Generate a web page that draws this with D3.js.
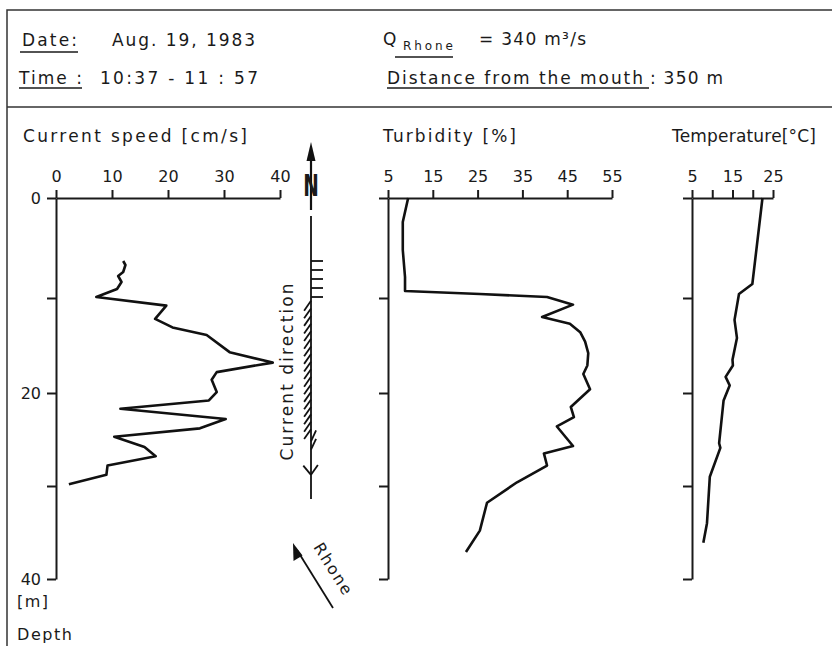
<!DOCTYPE html>
<html>
<head>
<meta charset="utf-8">
<script src="https://cdn.jsdelivr.net/npm/d3@7"></script>
<style>
    body { margin: 0; background: #fff; }
    svg { display: block; }
    text { font-family: "DejaVu Sans", sans-serif; fill: #1a1a1a; }
    .tick line, .domain { stroke: #1a1a1a; stroke-width: 2; }
</style>
</head>
<body>
<svg id="chart" width="832" height="646"></svg>
<script>
// - - - - - - - - - -
// data
// - - - - - - - - - -
const depthTicks = [0, 10, 20, 30, 40];
const depthLabels = [0, 20, 40];

const speedTicks = [0, 10, 20, 30, 40];
const speedDepth = [6.3, 6.7, 7.4, 7.8, 8.4, 9.1, 9.9, 10.8, 12.2, 13.1, 13.9, 15.7, 16.8, 17.8, 18.6, 19.9, 20.8, 21.7, 22.8, 23.8, 24.7, 25.8, 26.8, 27.8, 28.8, 29.8];
const speedVal = [12.0, 12.4, 12.0, 11.1, 11.7, 10.9, 7.2, 19.7, 17.7, 20.8, 26.9, 31.0, 38.7, 28.7, 27.8, 28.7, 27.3, 11.5, 30.3, 25.7, 10.4, 15.8, 17.8, 9.2, 9.0, 2.3];

const turbTicks = [5, 15, 25, 35, 45, 55];
const turbDepth = [0, 2.4, 5.2, 7.9, 9.3, 9.6, 9.9, 10.7, 12.0, 12.7, 13.6, 14.6, 15.8, 17.1, 18.0, 19.6, 21.5, 22.6, 23.6, 25.7, 26.5, 27.8, 29.6, 31.8, 34.8, 37.1];
const turbVal = [9.5, 8.3, 8.3, 8.8, 8.8, 25.5, 40.5, 46.3, 39.4, 45.6, 47.9, 49.0, 49.7, 49.5, 48.6, 50.1, 45.8, 46.5, 42.7, 46.3, 39.8, 40.5, 33.8, 27.1, 25.5, 22.4];

const tempTicks = [5, 10, 15, 20, 25];
const tempLabels = [5, 15, 25];
const tempDepth = [0, 8.6, 9.6, 12.3, 14.2, 16.5, 17.1, 18.3, 19.2, 20.8, 25.4, 25.9, 29.0, 34.0, 36.1];
const tempVal = [22.4, 19.9, 16.6, 15.5, 16.1, 15.0, 15.1, 13.3, 14.3, 12.8, 11.7, 12.0, 9.4, 8.7, 7.8];

// current direction, degrees clockwise from north
const dirDepth = [6.3, 7.2, 8.1, 9.0, 9.9,
    10.3, 11.1, 11.9, 12.7, 13.5, 14.3, 15.1, 15.9, 16.7, 17.5, 18.3, 19.1, 19.9, 20.7, 21.5, 22.3, 23.1, 23.9,
    25.2, 26.1, 28.8, 28.8];
const dirAngle = [90, 90, 90, 90, 90,
    215, 215, 215, 215, 215, 215, 215, 215, 215, 215, 215, 215, 215, 215, 215, 215, 215, 215,
    25, 25, 320, 35];

// - - - - - - - - - -
const svg = d3.select('#chart');

// depth runs down the page; the scan is slightly stretched near the surface
const y = d3.scaleLinear().domain(depthTicks).range([198, 298, 393, 486, 579]);

const xSpeed = d3.scaleLinear().domain([0, 40]).range([56, 280]);
const xTurb = d3.scaleLinear().domain([5, 55]).range([388, 612]);
const xTemp = d3.scaleLinear().domain([5, 25]).range([692, 773]);

// frame
const frame = svg.append('g').attr('stroke', '#333').attr('stroke-width', 1.5).attr('fill', 'none');
frame.append('path').attr('d', 'M832,10 H7 V646');
frame.append('path').attr('d', 'M7,107 H832');

// - - - - - - - - - -
// header
// - - - - - - - - - -
function label(x, yy, str, len, size) {
    const t = svg.append('text')
        .attr('x', x).attr('y', yy)
        .attr('font-size', size || 17)
        .text(str);
    if (len) t.attr('textLength', len).attr('lengthAdjust', 'spacing');
    return t;
}
function underline(x1, x2, yy) {
    svg.append('line')
        .attr('x1', x1).attr('x2', x2).attr('y1', yy).attr('y2', yy)
        .attr('stroke', '#1a1a1a').attr('stroke-width', 1.5);
}

label(22, 46, 'Date:', 55);
underline(20, 78, 52);
label(112, 46, 'Aug.  19, 1983', 143);
label(19, 84, 'Time :', 63);
underline(19, 82, 88);
label(100, 84, '10:37 - 11 : 57', 158);

label(383, 45, 'Q');
label(403, 50, 'Rhone', 50, 12);
underline(395, 453, 57);
label(479, 45, '= 340 m³/s', 107);
label(387, 84, 'Distance from the mouth', 256);
underline(387, 649, 88);
label(650, 84, ': 350 m', 73);

label(23, 142, 'Current speed [cm/s]', 224);
label(383, 142, 'Turbidity [%]', 133);
label(672, 142, 'Temperature[°C]', 144);

// - - - - - - - - - -
// panels
// - - - - - - - - - -
function panel(x, ticks, tickLabels, depth, values, showDepth) {
    const g = svg.append('g');

    const top = d3.axisTop(x)
        .tickValues(ticks)
        .tickSize(8)
        .tickSizeOuter(0)
        .tickPadding(8)
        .tickFormat(d => tickLabels.includes(d) ? d : '');
    g.append('g')
        .attr('transform', `translate(0,${y(0)})`)
        .call(top)
        .call(s => s.selectAll('text').attr('font-size', 16).attr('fill', '#1a1a1a'));

    const left = d3.axisLeft(y)
        .tickValues(depthTicks)
        .tickSize(9)
        .tickSizeOuter(0)
        .tickPadding(6)
        .tickFormat(d => showDepth && depthLabels.includes(d) ? d : '');
    g.append('g')
        .attr('transform', `translate(${x.range()[0]},0)`)
        .call(left)
        .call(s => s.selectAll('text').attr('font-size', 16).attr('fill', '#1a1a1a'));

    g.selectAll('.domain, .tick line').attr('stroke', '#1a1a1a').attr('stroke-width', 2);
    g.selectAll('.tick text').attr('font-family', '"DejaVu Sans", sans-serif');

    const line = d3.line()
        .x((d, i) => x(values[i]))
        .y(d => y(d));
    g.append('path')
        .datum(depth)
        .attr('d', line)
        .attr('fill', 'none')
        .attr('stroke', '#111')
        .attr('stroke-width', 2.6)
        .attr('stroke-linejoin', 'round');
}

panel(xSpeed, speedTicks, speedTicks, speedDepth, speedVal, true);
panel(xTurb, turbTicks, turbTicks, turbDepth, turbVal, false);
panel(xTemp, tempTicks, tempLabels, tempDepth, tempVal, false);

label(17, 607, '[m]', 31, 16);
label(17, 640, 'Depth', 55, 16);

// - - - - - - - - - -
// current direction column
// - - - - - - - - - -
const cx = 311;
const dir = svg.append('g').attr('stroke', '#111').attr('stroke-width', 1.8).attr('fill', 'none');

dir.append('line').attr('x1', cx).attr('x2', cx).attr('y1', 156).attr('y2', 210).attr('stroke-width', 2.2);
svg.append('path')
    .attr('d', `M${cx},142 L${cx - 4.5},161 L${cx + 4.5},161 Z`)
    .attr('fill', '#111');
svg.append('text')
    .attr('transform', `translate(${cx},196) scale(0.62,1)`)
    .attr('text-anchor', 'middle')
    .attr('font-size', 30)
    .attr('font-weight', 'bold')
    .text('N');

dir.append('line').attr('x1', cx).attr('x2', cx).attr('y1', 216).attr('y2', 499);

dir.selectAll('line.ray')
    .data(dirDepth)
    .join('line')
    .attr('class', 'ray')
    .attr('x1', cx)
    .attr('y1', d => y(d))
    .attr('x2', (d, i) => cx + 12 * Math.sin(dirAngle[i] * Math.PI / 180))
    .attr('y2', (d, i) => y(d) - 12 * Math.cos(dirAngle[i] * Math.PI / 180));

svg.append('text')
    .attr('transform', 'translate(293,372) rotate(-90)')
    .attr('text-anchor', 'middle')
    .attr('font-size', 17)
    .attr('textLength', 177)
    .attr('lengthAdjust', 'spacing')
    .text('Current direction');

// Rhone flow arrow
svg.append('line')
    .attr('x1', 333).attr('y1', 608).attr('x2', 297).attr('y2', 550)
    .attr('stroke', '#111').attr('stroke-width', 1.8);
svg.append('path')
    .attr('d', 'M293,543 L293.5,561 L302.5,555.5 Z')
    .attr('fill', '#111');
svg.append('text')
    .attr('transform', 'translate(313,547) rotate(58)')
    .attr('font-size', 16)
    .attr('textLength', 58)
    .attr('lengthAdjust', 'spacing')
    .text('Rhone');
</script>
</body>
</html>
